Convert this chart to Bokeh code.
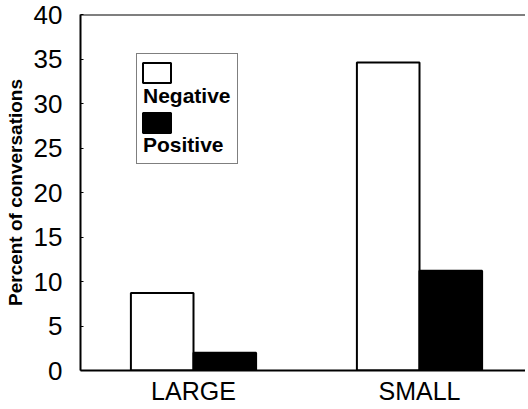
from bokeh.plotting import figure
from bokeh.models import (ColumnDataSource, Range1d, FixedTicker, Span,
                          Legend, LegendItem)
from bokeh.transform import dodge
from bokeh.embed import file_html
from bokeh.resources import INLINE

# ---- data ----
categories = ["LARGE", "SMALL"]
negative = [8.7, 34.6]
positive = [2.0, 11.2]
y_ticks = [0, 5, 10, 15, 20, 25, 30, 35, 40]
series_labels = ["Negative", "Positive"]

FONT = "Liberation Sans"
xpos = [i + 0.5 for i in range(len(categories))]
src = ColumnDataSource(dict(x=xpos, neg=negative, pos=positive))

p = figure(width=525, height=407, output_backend="svg",
           toolbar_location=None,
           x_range=Range1d(0, 1.969), y_range=Range1d(0, y_ticks[-1]),
           min_border_left=80, min_border_right=0, min_border_top=14,
           min_border_bottom=31)
p.outline_line_color = None
p.grid.visible = False
p.background_fill_color = "white"
p.border_fill_color = "white"

bw = 0.277
r_neg = p.vbar(x=dodge("x", -bw / 2, range=p.x_range), top="neg", width=bw,
               source=src, fill_color="white", line_color="black", line_width=2)
r_pos = p.vbar(x=dodge("x", bw / 2, range=p.x_range), top="pos", width=bw,
               source=src, fill_color="black", line_color="black", line_width=2)
blank = p.vbar(x=[], top=[], width=0, fill_alpha=0, line_alpha=0)

# top frame line at the end of the y range
p.add_layout(Span(location=p.y_range.end, dimension="width",
                  line_color="black", line_width=2))

# x axis
xa = p.xaxis[0]
xa.ticker = FixedTicker(ticks=xpos)
xa.major_label_overrides = {x: c for x, c in zip(xpos, categories)}
xa.major_tick_line_color = None
xa.major_tick_in = 0
xa.major_tick_out = 0
xa.minor_tick_line_color = None
xa.axis_line_width = 2
xa.axis_line_color = "black"
xa.major_label_text_font = FONT
xa.major_label_text_font_size = "25px"
xa.major_label_text_color = "black"
xa.major_label_standoff = 6

# y axis
ya = p.yaxis[0]
ya.ticker = FixedTicker(ticks=y_ticks)
ya.minor_tick_line_color = None
ya.major_tick_in = 3
ya.major_tick_out = 0
ya.major_tick_line_color = "black"
ya.axis_line_width = 2
ya.axis_line_color = "black"
ya.major_label_text_font = FONT
ya.major_label_text_font_size = "26px"
ya.major_label_text_color = "black"
ya.major_label_standoff = 18
ya.axis_label = "Percent of conversations"
ya.axis_label_text_font = FONT
ya.axis_label_text_font_size = "19px"
ya.axis_label_text_font_style = "bold"
ya.axis_label_text_color = "black"
ya.axis_label_standoff = 5


def style_legend(lg, glyph_w, glyph_h, label_h, spacing):
    lg.glyph_width = glyph_w
    lg.glyph_height = glyph_h
    lg.label_height = label_h
    lg.label_standoff = 0
    lg.label_text_font = FONT
    lg.label_text_font_size = "21px"
    lg.label_text_font_style = "bold"
    lg.label_text_color = "black"
    lg.spacing = spacing
    lg.padding = 6
    lg.margin = 0


# legend frame with the texts (each text on its own row, below its swatch)
leg_text = Legend(items=[
    LegendItem(label=" ", renderers=[blank]),
    LegendItem(label=series_labels[0], renderers=[blank]),
    LegendItem(label=" ", renderers=[blank]),
    LegendItem(label=series_labels[1], renderers=[blank]),
], location=(56, 206))
style_legend(leg_text, 0, 20, 23, 1)
leg_text.border_line_color = "black"
leg_text.border_line_width = 1
leg_text.background_fill_color = "white"
leg_text.background_fill_alpha = 1
p.add_layout(leg_text, "center")

# swatches overlay
leg_sw = Legend(items=[
    LegendItem(label=" ", renderers=[r_neg]),
    LegendItem(label=" ", renderers=[blank]),
    LegendItem(label=" ", renderers=[r_pos]),
    LegendItem(label=" ", renderers=[blank]),
], location=(59, 210))
style_legend(leg_sw, 35, 25, 25, 0)
leg_sw.border_line_color = None
leg_sw.background_fill_alpha = 0
p.add_layout(leg_sw, "center")

open("out.html", "w").write(file_html(p, INLINE))
